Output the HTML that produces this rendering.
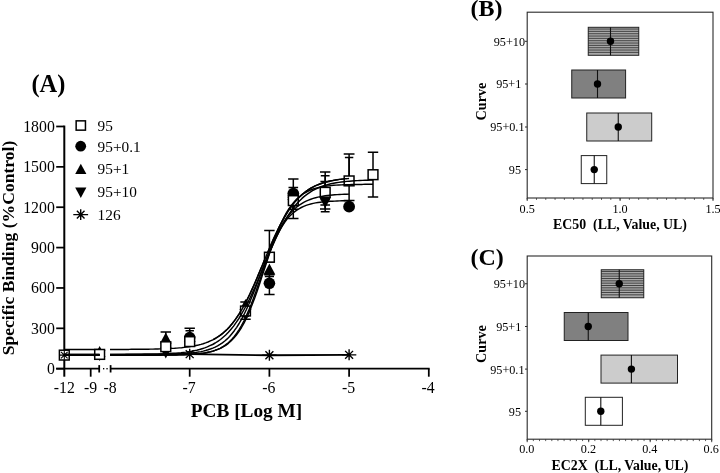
<!DOCTYPE html>
<html lang="en"><head><meta charset="utf-8"><title>Figure</title>
<style>html,body{margin:0;padding:0;background:#fff}body{width:720px;height:473px;overflow:hidden}svg{display:block}text{font-family:"Liberation Serif","Times New Roman",serif;fill:#000}.b{font-weight:bold}</style></head><body>
<svg width="720" height="473" viewBox="0 0 720 473">
<rect width="720" height="473" fill="#fff"/>
<g stroke="#000" stroke-width="2.0" fill="none" stroke-linecap="butt">
<path d="M64.3 125.58V376.70"/>
<path d="M56.20 368.70H64.3" stroke-width="1.75"/>
<path d="M56.20 328.33H64.3" stroke-width="1.75"/>
<path d="M56.20 287.96H64.3" stroke-width="1.75"/>
<path d="M56.20 247.59H64.3" stroke-width="1.75"/>
<path d="M56.20 207.22H64.3" stroke-width="1.75"/>
<path d="M56.20 166.85H64.3" stroke-width="1.75"/>
<path d="M56.20 126.48H64.3" stroke-width="1.75"/>
</g>
<g stroke="#000" stroke-width="1.75" fill="none" stroke-linecap="butt">
<path d="M56.20 368.7H99.3"/>
<path d="M90.7 368.7v8"/>
<path d="M99.2 365.09999999999997v7.4"/>
<path d="M110.6 365.09999999999997v7.4"/>
<path d="M110.6 368.7H429.65"/>
<path d="M189.70 368.7v8"/>
<path d="M269.40 368.7v8"/>
<path d="M349.10 368.7v8"/>
<path d="M428.80 368.7v8"/>
</g>
<g fill="#000"><rect x="103.0" y="368.00" width="1.3" height="1.4"/><rect x="106.4" y="368.00" width="1.3" height="1.4"/></g>
<g font-size="15.8px" text-anchor="end">
<text x="54.8" y="374.10">0</text>
<text x="54.8" y="333.73">300</text>
<text x="54.8" y="293.36">600</text>
<text x="54.8" y="252.99">900</text>
<text x="54.8" y="212.62">1200</text>
<text x="54.8" y="172.25">1500</text>
<text x="54.8" y="131.88">1800</text>
</g>
<g font-size="15.8px" text-anchor="middle">
<text x="64.4" y="393.3">-12</text><text x="90.7" y="393.3">-9</text><text x="110.0" y="393.3">-8</text>
<text x="189.10" y="393.3">-7</text>
<text x="268.80" y="393.3">-6</text>
<text x="348.50" y="393.3">-5</text>
<text x="428.20" y="393.3">-4</text>
</g>
<text class="b" font-size="17.6px" text-anchor="middle" transform="translate(13.6 248) rotate(-90)">Specific Binding (%Control)</text>
<text class="b" font-size="19.3px" text-anchor="middle" x="246.5" y="417.4">PCB [Log M]</text>
<text class="b" font-size="24.4px" x="31.4" y="92.3">(A)</text>
<path d="M99.62 346.10L105.52 357.01H93.72Z" fill="#000"/>
<path d="M99.62 361.10L105.52 350.19H93.72Z" fill="#000"/>
<path d="M165.79 332.00V345.00M160.59 332.00h10.40" stroke="#000" stroke-width="1.5" fill="none"/>
<path d="M165.79 332.60L171.69 343.51H159.89Z" fill="#000"/>
<path d="M165.79 358.40L171.69 347.49H159.89Z" fill="#000"/>
<path d="M189.70 328.30V340.00M184.50 328.30h10.40" stroke="#000" stroke-width="1.5" fill="none"/>
<path d="M189.70 330.80V340.00M185.50 330.80h8.40" stroke="#000" stroke-width="1.5" fill="none"/>
<circle cx="189.70" cy="337.50" r="5.7" fill="#000"/>
<path d="M189.70 331.10L195.60 342.01H183.80Z" fill="#000"/>
<path d="M245.49 299.10L251.39 310.01H239.59Z" fill="#000"/>
<path d="M245.49 302.00V319.20M240.29 302.00h10.40M240.29 319.20h10.40" stroke="#000" stroke-width="1.5" fill="none"/>
<circle cx="245.49" cy="313.00" r="5" fill="#000"/>
<path d="M245.49 319.90L251.39 308.99H239.59Z" fill="#000"/>
<path d="M269.40 230.60V262.00M264.20 230.60h10.40M264.20 262.00h10.40" stroke="#000" stroke-width="1.5" fill="none"/>
<path d="M269.40 274.70V294.40M264.20 274.70h10.40M264.20 294.40h10.40" stroke="#000" stroke-width="1.5" fill="none"/>
<path d="M269.40 276.60V280.00M264.80 276.60h9.20" stroke="#000" stroke-width="1.5" fill="none"/>
<circle cx="269.40" cy="283.30" r="5.8" fill="#000"/>
<path d="M269.40 263.60L275.30 274.51H263.50Z" fill="#000"/>
<path d="M293.31 178.90V218.60M288.11 178.90h10.40M288.11 218.60h10.40" stroke="#000" stroke-width="1.5" fill="none"/>
<path d="M293.31 187.50V209.30M288.51 187.50h9.60M288.51 209.30h9.60" stroke="#000" stroke-width="1.5" fill="none"/>
<path d="M293.31 186.60L299.21 197.51H287.41Z" fill="#000"/>
<circle cx="293.31" cy="193.60" r="5.9" fill="#000"/>
<path d="M293.31 209.90L299.21 198.99H287.41Z" fill="#000"/>
<path d="M325.19 172.10V209.00M319.99 172.10h10.40M319.99 209.00h10.40" stroke="#000" stroke-width="1.5" fill="none"/>
<path d="M325.19 175.80V211.80M320.79 175.80h8.80M320.79 211.80h8.80" stroke="#000" stroke-width="1.5" fill="none"/>
<path d="M325.19 181.40V205.00M320.39 181.40h9.60M320.39 205.00h9.60" stroke="#000" stroke-width="1.5" fill="none"/>
<path d="M325.19 208.10L331.09 197.19H319.29Z" fill="#000"/>
<path d="M325.19 191.00L330.19 200.25H320.19Z" fill="#000"/>
<path d="M349.10 153.90V200.50M343.70 153.90h10.80M343.70 200.50h10.80" stroke="#000" stroke-width="1.5" fill="none"/>
<path d="M349.10 157.40V180.00M344.90 157.40h8.40" stroke="#000" stroke-width="1.5" fill="none"/>
<circle cx="349.10" cy="206.70" r="5.9" fill="#000"/>
<path d="M373.01 152.20V197.10M367.81 152.20h10.40M367.81 197.10h10.40" stroke="#000" stroke-width="1.5" fill="none"/>
<g stroke="#000" stroke-width="1.45" fill="none" stroke-linejoin="round">
<path d="M64.30 349.46L99.62 349.42"/>
<path d="M110.0 349.4L112.4 349.4L114.8 349.4L117.2 349.4L119.6 349.4L122.0 349.4L124.3 349.4L126.7 349.4L129.1 349.4L131.5 349.3L133.9 349.3L136.3 349.3L138.7 349.3L141.1 349.3L143.5 349.2L145.9 349.2L148.3 349.2L150.6 349.1L153.0 349.1L155.4 349.0L157.8 349.0L160.2 348.9L162.6 348.8L165.0 348.8L167.4 348.7L169.8 348.5L172.2 348.4L174.6 348.3L176.9 348.1L179.3 347.9L181.7 347.7L184.1 347.4L186.5 347.1L188.9 346.8L191.3 346.4L193.7 346.0L196.1 345.5L198.5 345.0L200.9 344.4L203.2 343.7L205.6 342.9L208.0 342.0L210.4 340.9L212.8 339.8L215.2 338.5L217.6 337.0L220.0 335.4L222.4 333.6L224.8 331.5L227.2 329.3L229.6 326.7L231.9 324.0L234.3 320.9L236.7 317.6L239.1 313.9L241.5 310.0L243.9 305.8L246.3 301.3L248.7 296.5L251.1 291.5L253.5 286.2L255.9 280.7L258.2 275.1L260.6 269.4L263.0 263.7L265.4 257.9L267.8 252.2L270.2 246.5L272.6 241.1L275.0 235.8L277.4 230.7L279.8 225.9L282.2 221.3L284.5 217.1L286.9 213.1L289.3 209.4L291.7 206.1L294.1 203.0L296.5 200.2L298.9 197.6L301.3 195.3L303.7 193.2L306.1 191.4L308.5 189.7L310.8 188.2L313.2 186.9L315.6 185.7L318.0 184.7L320.4 183.8L322.8 183.0L325.2 182.3L327.6 181.6L330.0 181.1L332.4 180.6L334.8 180.1L337.1 179.8L339.5 179.4L341.9 179.1L344.3 178.9L346.7 178.7L349.1 178.5"/>
</g>
<rect x="59.40" y="350.20" width="9.8" height="9.8" fill="#fff" stroke="#000" stroke-width="1.5"/>
<path d="M59.70 355.10h9.20M64.30 350.50v9.20M60.99 351.79l6.62 6.62M60.99 358.41l6.62 -6.62" stroke="#000" stroke-width="1.1" fill="none"/>
<rect x="94.72" y="349.50" width="9.8" height="9.8" fill="#fff" stroke="#000" stroke-width="1.5"/>
<rect x="160.89" y="341.80" width="9.8" height="9.8" fill="#fff" stroke="#000" stroke-width="1.5"/>
<rect x="184.80" y="336.70" width="9.8" height="9.8" fill="#fff" stroke="#000" stroke-width="1.5"/>
<rect x="240.59" y="306.10" width="9.8" height="9.8" fill="#fff" stroke="#000" stroke-width="1.5"/>
<rect x="264.50" y="252.30" width="9.8" height="9.8" fill="#fff" stroke="#000" stroke-width="1.5"/>
<rect x="288.41" y="195.70" width="9.8" height="9.8" fill="#fff" stroke="#000" stroke-width="1.5"/>
<rect x="320.29" y="187.40" width="9.8" height="9.8" fill="#fff" stroke="#000" stroke-width="1.5"/>
<rect x="344.20" y="176.00" width="9.8" height="9.8" fill="#fff" stroke="#000" stroke-width="1.5"/>
<rect x="368.11" y="169.80" width="9.8" height="9.8" fill="#fff" stroke="#000" stroke-width="1.5"/>
<g stroke="#000" stroke-width="1.45" fill="none" stroke-linejoin="round">
<path d="M64.30 354.57L99.62 354.53"/>
<path d="M110.0 354.5L112.6 354.5L115.3 354.5L117.9 354.5L120.5 354.5L123.2 354.5L125.8 354.5L128.4 354.5L131.0 354.4L133.7 354.4L136.3 354.4L138.9 354.4L141.6 354.4L144.2 354.3L146.8 354.3L149.5 354.2L152.1 354.2L154.7 354.1L157.3 354.1L160.0 354.0L162.6 353.9L165.2 353.8L167.9 353.7L170.5 353.5L173.1 353.3L175.8 353.2L178.4 352.9L181.0 352.7L183.6 352.4L186.3 352.1L188.9 351.7L191.5 351.3L194.2 350.7L196.8 350.2L199.4 349.5L202.1 348.7L204.7 347.9L207.3 346.9L209.9 345.7L212.6 344.5L215.2 343.0L217.8 341.3L220.5 339.5L223.1 337.3L225.7 335.0L228.4 332.3L231.0 329.3L233.6 326.1L236.2 322.4L238.9 318.5L241.5 314.2L244.1 309.5L246.8 304.5L249.4 299.2L252.0 293.6L254.7 287.8L257.3 281.7L259.9 275.5L262.5 269.2L265.2 262.9L267.8 256.6L270.4 250.5L273.1 244.5L275.7 238.7L278.3 233.2L281.0 228.0L283.6 223.1L286.2 218.6L288.8 214.4L291.5 210.5L294.1 207.0L296.7 203.8L299.4 201.0L302.0 198.4L304.6 196.1L307.3 194.1L309.9 192.3L312.5 190.7L315.1 189.3L317.8 188.1L320.4 187.0L323.0 186.0L325.7 185.2L328.3 184.5L330.9 183.8L333.6 183.3L336.2 182.8L338.8 182.4L341.4 182.0L344.1 181.7L346.7 181.4L349.3 181.2L352.0 181.0L354.6 180.8L357.2 180.6L359.9 180.5L362.5 180.4L365.1 180.3L367.7 180.2L370.4 180.1L373.0 180.1"/>
<path d="M64.30 355.24L99.62 355.24"/>
<path d="M110.0 355.2L112.6 355.2L115.3 355.2L117.9 355.2L120.5 355.2L123.2 355.2L125.8 355.2L128.4 355.2L131.0 355.2L133.7 355.2L136.3 355.2L138.9 355.2L141.6 355.2L144.2 355.2L146.8 355.2L149.5 355.2L152.1 355.2L154.7 355.2L157.3 355.2L160.0 355.2L162.6 355.1L165.2 355.1L167.9 355.1L170.5 355.0L173.1 355.0L175.8 355.0L178.4 354.9L181.0 354.8L183.6 354.7L186.3 354.6L188.9 354.5L191.5 354.4L194.2 354.2L196.8 353.9L199.4 353.7L202.1 353.3L204.7 353.0L207.3 352.5L209.9 351.9L212.6 351.2L215.2 350.4L217.8 349.4L220.5 348.3L223.1 346.9L225.7 345.3L228.4 343.3L231.0 341.0L233.6 338.3L236.2 335.2L238.9 331.6L241.5 327.5L244.1 322.8L246.8 317.5L249.4 311.6L252.0 305.1L254.7 298.1L257.3 290.7L259.9 282.9L262.5 274.9L265.2 266.8L267.8 258.7L270.4 250.8L273.1 243.3L275.7 236.2L278.3 229.6L281.0 223.5L283.6 218.1L286.2 213.2L288.8 208.9L291.5 205.2L294.1 201.9L296.7 199.1L299.4 196.7L302.0 194.7L304.6 193.0L307.3 191.5L309.9 190.3L312.5 189.3L315.1 188.4L317.8 187.7L320.4 187.1L323.0 186.6L325.7 186.2L328.3 185.9L330.9 185.6L333.6 185.3L336.2 185.1L338.8 185.0L341.4 184.9L344.1 184.7L346.7 184.7L349.3 184.6L352.0 184.5L354.6 184.5L357.2 184.4L359.9 184.4L362.5 184.4L365.1 184.3L367.7 184.3L370.4 184.3L373.0 184.3"/>
<path d="M64.30 354.57L99.62 354.56"/>
<path d="M110.0 354.6L112.4 354.6L114.8 354.6L117.2 354.6L119.6 354.6L122.0 354.6L124.3 354.6L126.7 354.5L129.1 354.5L131.5 354.5L133.9 354.5L136.3 354.5L138.7 354.5L141.1 354.5L143.5 354.5L145.9 354.5L148.3 354.5L150.6 354.5L153.0 354.4L155.4 354.4L157.8 354.4L160.2 354.4L162.6 354.3L165.0 354.3L167.4 354.2L169.8 354.2L172.2 354.1L174.6 354.0L176.9 354.0L179.3 353.8L181.7 353.7L184.1 353.6L186.5 353.4L188.9 353.2L191.3 353.0L193.7 352.7L196.1 352.4L198.5 352.0L200.9 351.6L203.2 351.1L205.6 350.5L208.0 349.8L210.4 349.0L212.8 348.1L215.2 347.1L217.6 345.9L220.0 344.4L222.4 342.8L224.8 341.0L227.2 338.9L229.6 336.5L231.9 333.7L234.3 330.7L236.7 327.3L239.1 323.5L241.5 319.3L243.9 314.7L246.3 309.8L248.7 304.5L251.1 298.8L253.5 292.9L255.9 286.8L258.2 280.5L260.6 274.1L263.0 267.7L265.4 261.4L267.8 255.3L270.2 249.4L272.6 243.7L275.0 238.4L277.4 233.5L279.8 228.9L282.2 224.7L284.5 220.9L286.9 217.5L289.3 214.4L291.7 211.7L294.1 209.3L296.5 207.2L298.9 205.4L301.3 203.8L303.7 202.3L306.1 201.1L308.5 200.1L310.8 199.2L313.2 198.4L315.6 197.7L318.0 197.1L320.4 196.6L322.8 196.2L325.2 195.8L327.6 195.5L330.0 195.2L332.4 195.0L334.8 194.8L337.1 194.6L339.5 194.5L341.9 194.4L344.3 194.2L346.7 194.2L349.1 194.1"/>
<path d="M64.30 355.24L99.62 355.24"/>
<path d="M110.0 355.2L112.4 355.2L114.8 355.2L117.2 355.2L119.6 355.2L122.0 355.2L124.3 355.2L126.7 355.2L129.1 355.2L131.5 355.2L133.9 355.2L136.3 355.2L138.7 355.2L141.1 355.2L143.5 355.2L145.9 355.2L148.3 355.2L150.6 355.2L153.0 355.2L155.4 355.2L157.8 355.2L160.2 355.2L162.6 355.1L165.0 355.1L167.4 355.1L169.8 355.1L172.2 355.0L174.6 355.0L176.9 355.0L179.3 354.9L181.7 354.8L184.1 354.8L186.5 354.7L188.9 354.5L191.3 354.4L193.7 354.2L196.1 354.0L198.5 353.8L200.9 353.5L203.2 353.2L205.6 352.8L208.0 352.3L210.4 351.8L212.8 351.1L215.2 350.3L217.6 349.4L220.0 348.3L222.4 347.0L224.8 345.4L227.2 343.7L229.6 341.6L231.9 339.2L234.3 336.4L236.7 333.2L239.1 329.6L241.5 325.5L243.9 321.0L246.3 315.9L248.7 310.4L251.1 304.5L253.5 298.2L255.9 291.6L258.2 284.8L260.6 277.9L263.0 270.9L265.4 264.1L267.8 257.5L270.2 251.2L272.6 245.3L275.0 239.8L277.4 234.8L279.8 230.2L282.2 226.1L284.5 222.5L286.9 219.3L289.3 216.6L291.7 214.2L294.1 212.1L296.5 210.3L298.9 208.8L301.3 207.5L303.7 206.4L306.1 205.4L308.5 204.6L310.8 204.0L313.2 203.4L315.6 202.9L318.0 202.5L320.4 202.2L322.8 201.9L325.2 201.7L327.6 201.5L330.0 201.3L332.4 201.2L334.8 201.1L337.1 201.0L339.5 200.9L341.9 200.8L344.3 200.8L346.7 200.7L349.1 200.7"/>
</g>
<g stroke="#000" stroke-width="1.45" fill="none" stroke-linejoin="round">
<path d="M213.6 339.4L215.0 338.6L216.3 337.8L217.7 337.0L219.0 336.1L220.4 335.1L221.7 334.1L223.1 333.0L224.4 331.8L225.8 330.6L227.2 329.3L228.5 327.9L229.9 326.4L231.2 324.8L232.6 323.2L233.9 321.4L235.3 319.6L236.6 317.7L238.0 315.7L239.4 313.6L240.7 311.4L242.1 309.1L243.4 306.7L244.8 304.2L246.1 301.6L247.5 298.9L248.8 296.2L250.2 293.3L251.5 290.4L252.9 287.4L254.3 284.4L255.6 281.3L257.0 278.1L258.3 274.9L259.7 271.7L261.0 268.5L262.4 265.2L263.7 261.9L265.1 258.7L266.5 255.4L267.8 252.2L269.2 249.0L270.5 245.8L271.9 242.7L273.2 239.6L274.6 236.6L275.9 233.7L277.3 230.9L278.6 228.1L280.0 225.4L281.4 222.8L282.7 220.3L284.1 217.9L285.4 215.6L286.8 213.4L288.1 211.2L289.5 209.2L290.8 207.3L292.2 205.4L293.5 203.7L294.9 202.0L296.3 200.4L297.6 198.9L299.0 197.5L300.3 196.2L301.7 194.9L303.0 193.8L304.4 192.7L305.7 191.6L307.1 190.6L308.5 189.7L309.8 188.8L311.2 188.0L312.5 187.3L313.9 186.6L315.2 185.9L316.6 185.3L317.9 184.7L319.3 184.2L320.6 183.7L322.0 183.2L323.4 182.8L324.7 182.4L326.1 182.0L327.4 181.7L328.8 181.3L330.1 181.0L331.5 180.7L332.8 180.5L334.2 180.2L335.6 180.0L336.9 179.8L338.3 179.6L339.6 179.4L341.0 179.3L342.3 179.1L343.7 178.9L345.0 178.8L346.4 178.7L347.7 178.6L349.1 178.5"/>
</g>
<g stroke="#000" stroke-width="1.8" fill="none" stroke-linejoin="round">
<path d="M64.30 354.84L99.62 354.84"/>
<path d="M110.00 354.71L189.70 354.17L269.40 355.24L349.10 354.84"/>
</g>
<path d="M182.50 354.17h14.40M189.70 348.67v11.00M185.74 350.21l7.92 7.92M185.74 358.13l7.92 -7.92" stroke="#000" stroke-width="1.4" fill="none"/>
<path d="M262.20 355.24h14.40M269.40 349.74v11.00M265.44 351.28l7.92 7.92M265.44 359.20l7.92 -7.92" stroke="#000" stroke-width="1.4" fill="none"/>
<path d="M341.90 354.84h14.40M349.10 349.34v11.00M345.14 350.88l7.92 7.92M345.14 358.80l7.92 -7.92" stroke="#000" stroke-width="1.4" fill="none"/>
<rect x="76.15" y="120.85" width="9.3" height="9.3" fill="#fff" stroke="#000" stroke-width="1.5"/>
<circle cx="80.70" cy="146.20" r="5.4" fill="#000"/>
<path d="M80.80 163.70L86.40 174.06H75.20Z" fill="#000"/>
<path d="M80.80 197.90L86.40 187.54H75.20Z" fill="#000"/>
<path d="M73.30 214.60h14.80M80.70 209.30v10.60M76.88 210.78l7.63 7.63M76.88 218.42l7.63 -7.63" stroke="#000" stroke-width="1.4" fill="none"/>
<g font-size="15.3px">
<text x="97.6" y="130.6">95</text>
<text x="97.6" y="151.6">95+0.1</text>
<text x="97.6" y="174.2">95+1</text>
<text x="97.6" y="197.2">95+10</text>
<text x="97.6" y="219.6">126</text>
</g>
<text class="b" font-size="24px" x="470.4" y="16.1">(B)</text>
<rect x="527.2" y="12.2" width="185.79999999999995" height="185.8" fill="#fff" stroke="#2a2a2a" stroke-width="1.1"/>
<path d="M527.20 198.0v1.9M536.49 198.0v1.9M545.78 198.0v1.9M555.07 198.0v1.9M564.36 198.0v1.9M573.65 198.0v1.9M582.94 198.0v1.9M592.23 198.0v1.9M601.52 198.0v1.9M610.81 198.0v1.9M620.10 198.0v1.9M629.39 198.0v1.9M638.68 198.0v1.9M647.97 198.0v1.9M657.26 198.0v1.9M666.55 198.0v1.9M675.84 198.0v1.9M685.13 198.0v1.9M694.42 198.0v1.9M703.71 198.0v1.9M713.00 198.0v1.9" stroke="#333" stroke-width="0.8" fill="none"/>
<path d="M525.0 41.3h2.2" stroke="#2a2a2a" stroke-width="1"/>
<text font-size="12.2px" text-anchor="end" x="525.0" y="45.70">95+10</text>
<rect x="588.25" y="27.30" width="50.50" height="28" fill="#a8a8a8"/>
<path d="M588.25 29.05H638.75M588.25 31.38H638.75M588.25 33.72H638.75M588.25 36.05H638.75M588.25 38.38H638.75M588.25 40.71H638.75M588.25 43.05H638.75M588.25 45.38H638.75M588.25 47.71H638.75M588.25 50.05H638.75M588.25 52.38H638.75" stroke="#444" stroke-width="1" fill="none"/>
<rect x="588.25" y="27.30" width="50.50" height="28" fill="none" stroke="#222" stroke-width="1"/>
<path d="M610.50 27.30v28" stroke="#111" stroke-width="1.1"/>
<circle cx="610.50" cy="41.30" r="3.7" fill="#000"/>
<path d="M525.0 84.0h2.2" stroke="#2a2a2a" stroke-width="1"/>
<text font-size="12.2px" text-anchor="end" x="521.3" y="88.40">95+1</text>
<rect x="571.75" y="70.00" width="53.85" height="28" fill="#808080" stroke="#222" stroke-width="1"/>
<path d="M597.50 70.00v28" stroke="#111" stroke-width="1.1"/>
<circle cx="597.50" cy="84.00" r="3.7" fill="#000"/>
<path d="M525.0 127.0h2.2" stroke="#2a2a2a" stroke-width="1"/>
<text font-size="12.2px" text-anchor="end" x="524.5" y="131.40">95+0.1</text>
<rect x="586.75" y="113.00" width="64.95" height="28" fill="#cccccc" stroke="#222" stroke-width="1"/>
<path d="M618.25 113.00v28" stroke="#111" stroke-width="1.1"/>
<circle cx="618.25" cy="127.00" r="3.7" fill="#000"/>
<path d="M525.0 169.6h2.2" stroke="#2a2a2a" stroke-width="1"/>
<text font-size="12.2px" text-anchor="end" x="521.0" y="174.00">95</text>
<rect x="581.25" y="155.60" width="25.50" height="28" fill="#ffffff" stroke="#222" stroke-width="1"/>
<path d="M594.25 155.60v28" stroke="#111" stroke-width="1.1"/>
<circle cx="594.25" cy="169.60" r="3.7" fill="#000"/>
<g font-size="12.2px" text-anchor="middle">
<path d="M527.20 198.0v3" stroke="#333" stroke-width="0.9"/>
<text x="527.20" y="212.6">0.5</text>
<path d="M620.10 198.0v3" stroke="#333" stroke-width="0.9"/>
<text x="620.10" y="212.6">1.0</text>
<path d="M713.00 198.0v3" stroke="#333" stroke-width="0.9"/>
<text x="713.00" y="212.6">1.5</text>
</g>
<text class="b" font-size="13.85px" text-anchor="middle" x="620" y="229.1" style="white-space:pre">EC50  (LL, Value, UL)</text>
<text class="b" font-size="14.2px" text-anchor="middle" transform="translate(486 101.5) rotate(-90)">Curve</text>
<text class="b" font-size="24px" x="470.4" y="265.0">(C)</text>
<rect x="527.2" y="256.0" width="184.5" height="183.2" fill="#fff" stroke="#2a2a2a" stroke-width="1.1"/>
<path d="M527.20 439.2v1.9M533.35 439.2v1.9M539.50 439.2v1.9M545.65 439.2v1.9M551.80 439.2v1.9M557.95 439.2v1.9M564.10 439.2v1.9M570.25 439.2v1.9M576.40 439.2v1.9M582.55 439.2v1.9M588.70 439.2v1.9M594.85 439.2v1.9M601.00 439.2v1.9M607.15 439.2v1.9M613.30 439.2v1.9M619.45 439.2v1.9M625.60 439.2v1.9M631.75 439.2v1.9M637.90 439.2v1.9M644.05 439.2v1.9M650.20 439.2v1.9M656.35 439.2v1.9M662.50 439.2v1.9M668.65 439.2v1.9M674.80 439.2v1.9M680.95 439.2v1.9M687.10 439.2v1.9M693.25 439.2v1.9M699.40 439.2v1.9M705.55 439.2v1.9M711.70 439.2v1.9" stroke="#333" stroke-width="0.8" fill="none"/>
<path d="M525.0 283.75h2.2" stroke="#2a2a2a" stroke-width="1"/>
<text font-size="12.2px" text-anchor="end" x="525.0" y="288.15">95+10</text>
<rect x="601.25" y="269.75" width="42.50" height="28" fill="#a8a8a8"/>
<path d="M601.25 271.50H643.75M601.25 273.83H643.75M601.25 276.17H643.75M601.25 278.50H643.75M601.25 280.83H643.75M601.25 283.17H643.75M601.25 285.50H643.75M601.25 287.83H643.75M601.25 290.16H643.75M601.25 292.50H643.75M601.25 294.83H643.75" stroke="#444" stroke-width="1" fill="none"/>
<rect x="601.25" y="269.75" width="42.50" height="28" fill="none" stroke="#222" stroke-width="1"/>
<path d="M619.25 269.75v28" stroke="#111" stroke-width="1.1"/>
<circle cx="619.25" cy="283.75" r="3.7" fill="#000"/>
<path d="M525.0 326.5h2.2" stroke="#2a2a2a" stroke-width="1"/>
<text font-size="12.2px" text-anchor="end" x="521.3" y="330.90">95+1</text>
<rect x="564.25" y="312.50" width="63.75" height="28" fill="#808080" stroke="#222" stroke-width="1"/>
<path d="M588.25 312.50v28" stroke="#111" stroke-width="1.1"/>
<circle cx="588.25" cy="326.50" r="3.7" fill="#000"/>
<path d="M525.0 369.1h2.2" stroke="#2a2a2a" stroke-width="1"/>
<text font-size="12.2px" text-anchor="end" x="524.5" y="373.50">95+0.1</text>
<rect x="601.00" y="355.10" width="76.50" height="28" fill="#cccccc" stroke="#222" stroke-width="1"/>
<path d="M631.40 355.10v28" stroke="#111" stroke-width="1.1"/>
<circle cx="631.40" cy="369.10" r="3.7" fill="#000"/>
<path d="M525.0 411.3h2.2" stroke="#2a2a2a" stroke-width="1"/>
<text font-size="12.2px" text-anchor="end" x="521.0" y="415.70">95</text>
<rect x="585.30" y="397.30" width="37.10" height="28" fill="#ffffff" stroke="#222" stroke-width="1"/>
<path d="M600.80 397.30v28" stroke="#111" stroke-width="1.1"/>
<circle cx="600.80" cy="411.30" r="3.7" fill="#000"/>
<g font-size="12.2px" text-anchor="middle">
<path d="M527.20 439.2v3" stroke="#333" stroke-width="0.9"/>
<text x="526.80" y="453.4">0.0</text>
<path d="M588.70 439.2v3" stroke="#333" stroke-width="0.9"/>
<text x="588.40" y="453.4">0.2</text>
<path d="M650.20 439.2v3" stroke="#333" stroke-width="0.9"/>
<text x="649.80" y="453.4">0.4</text>
<path d="M711.70 439.2v3" stroke="#333" stroke-width="0.9"/>
<text x="711.20" y="453.4">0.6</text>
</g>
<text class="b" font-size="13.85px" text-anchor="middle" x="620" y="469.8" style="white-space:pre">EC2X  (LL, Value, UL)</text>
<text class="b" font-size="14.2px" text-anchor="middle" transform="translate(486 344.0) rotate(-90)">Curve</text>
</svg></body></html>
